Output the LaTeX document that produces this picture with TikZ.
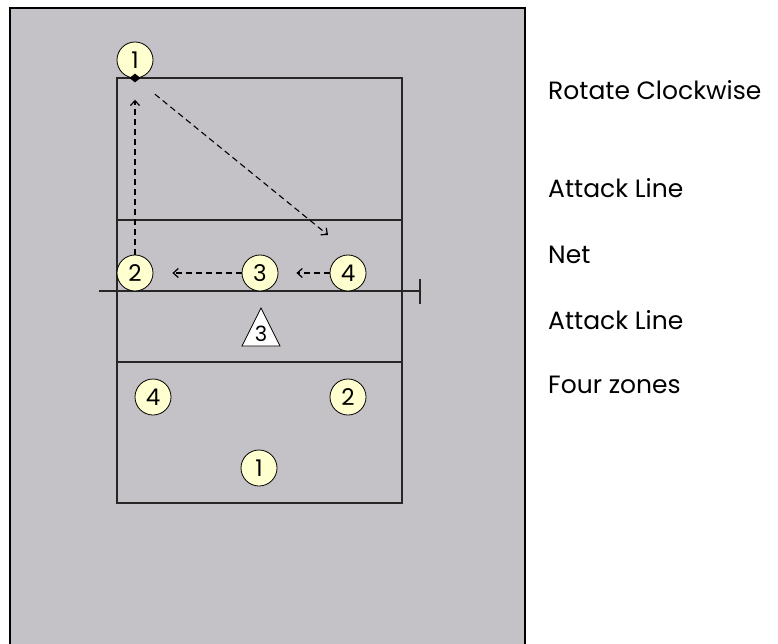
\documentclass[tikz,border=0pt]{standalone}
\usepackage{fontspec}
\setmainfont{Poppins}
\usetikzlibrary{arrows.meta,shapes.geometric}
\definecolor{courtgray}{RGB}{196,194,198}
\definecolor{playeryellow}{RGB}{255,255,208}
\tikzset{
  player/.style={circle,draw=black,fill=playeryellow,line width=0.8pt,minimum size=36pt,inner sep=0pt,font=\fontsize{23}{23}\selectfont},
  runpath/.style={dashed,dash pattern=on 6pt off 4pt,line width=1.1pt,-{Straight Barb[length=5pt,width=9pt,line width=1.2pt]}},
  courtline/.style={line width=1.4pt,draw=black!85},
  sidelabel/.style={anchor=base west,inner sep=0pt,font=\fontsize{25}{25}\selectfont}
}
\begin{document}
\begin{tikzpicture}[x=1pt,y=-1pt]
\useasboundingbox (0,0) rectangle (778,644);
\fill[courtgray] (10,8) rectangle (525,650);
\draw[line width=1.2pt] (10,650) -- (10,8) -- (525,8) -- (525,650);
\draw[courtline] (117,78) rectangle (402,503);
\draw[courtline] (117,220) -- (402,220);
\draw[courtline] (117,362) -- (402,362);
\draw[courtline] (99,291) -- (420,291);
\draw[courtline] (420,279) -- (420,304);
\node[player] (s1) at (135,60) {1};
\node[fill=black,diamond,inner sep=0pt,minimum width=11pt,minimum height=9pt] (dot) at (135,78) {};
\node[player] (f2) at (135,273) {2};
\node[player] (f3) at (260,273) {3};
\node[player] (f4) at (348,273) {4};
\node[player] (b4) at (153,397) {4};
\node[player] (b2) at (348,397) {2};
\node[player] (b1) at (259,468) {1};
\draw[line width=0.8pt,fill=white] (261,308) -- (280,346) -- (242,346) -- cycle;
\node[inner sep=0pt,font=\fontsize{21}{21}\selectfont] (t3) at (261,334) {3};
\coordinate (aim) at (328,235);
\draw[runpath,shorten >=17pt] (f2) -- (dot);
\draw[runpath,shorten <=22pt] (dot) -- (aim);
\draw[runpath,shorten >=19pt] (f3) -- (f2);
\draw[runpath,shorten >=18pt] (f4) -- (f3);
\node[sidelabel] (rot) at (548,100) {Rotate Clockwise};
\node[sidelabel] (al1) at (548,198) {Attack Line};
\node[sidelabel] (net) at (548,263) {Net};
\node[sidelabel] (al2) at (548,329) {Attack Line};
\node[sidelabel] (fz) at (548,393) {Four zones};
\end{tikzpicture}
\end{document}
